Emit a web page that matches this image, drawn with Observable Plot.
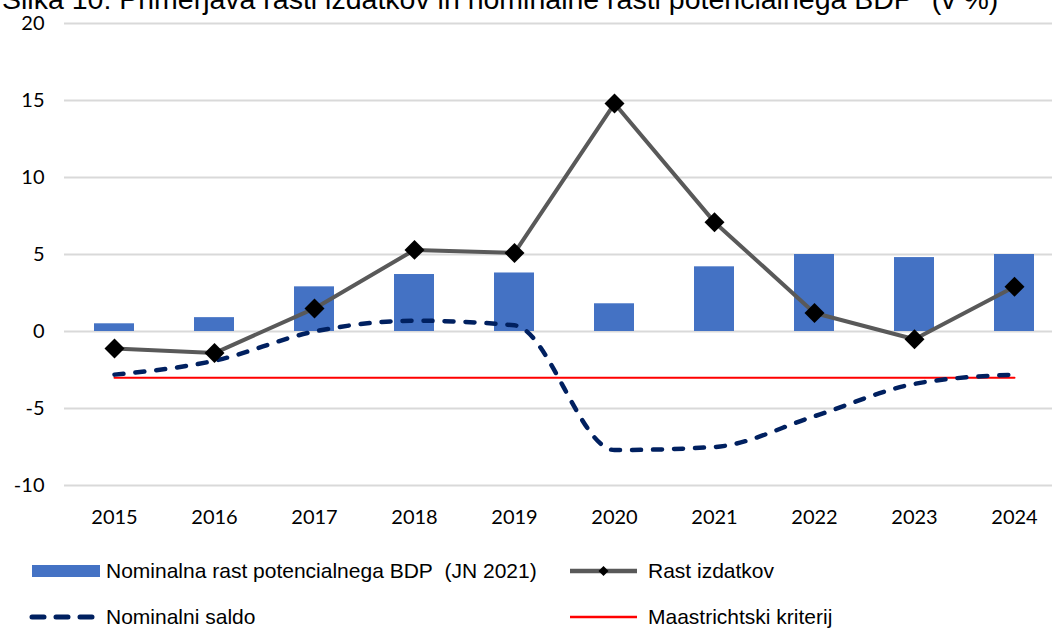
<!DOCTYPE html>
<html>
<head>
<meta charset="utf-8">
<script src="https://cdn.jsdelivr.net/npm/d3@7"></script>
<script src="https://cdn.jsdelivr.net/npm/@observablehq/plot@0.6"></script>
<style>
  html, body { margin: 0; padding: 0; width: 1052px; height: 628px; overflow: hidden; background: #fff; }
  #wrap { position: relative; width: 1052px; height: 628px; overflow: hidden; }
  #title { position: absolute; left: 2px; top: -15px; font: 28.5px "Liberation Sans", Arial, sans-serif; line-height: 28.5px; white-space: nowrap; color: #000; }
  #chart { position: absolute; left: 0; top: 0; width: 1064px; }
  #chart svg { max-width: none !important; }
  .leg { position: absolute; font: 21px "Liberation Sans", Arial, sans-serif; color: #000; white-space: nowrap; line-height: 24px; }
  .sw { position: absolute; }
</style>
</head>
<body>
<div id="wrap">
  <div id="title">Slika 10: Primerjava rasti izdatkov in nominalne rasti potencialnega BDP* (v %)</div>
  <div id="chart"></div>
  <svg class="sw" style="left:30px;top:560px" width="72" height="22"><rect x="2" y="5" width="68" height="12" fill="#4472C4"/></svg>
  <div class="leg" style="left:106px;top:559px">Nominalna rast potencialnega BDP&nbsp; (JN 2021)</div>
  <svg class="sw" style="left:568px;top:560px" width="72" height="22"><line x1="2" y1="11" x2="69" y2="11" stroke="#595959" stroke-width="4.5"/><path d="M35.5,6 L40.5,11 L35.5,16 L30.5,11 Z" fill="#000"/></svg>
  <div class="leg" style="left:648px;top:559px">Rast izdatkov</div>
  <svg class="sw" style="left:28px;top:606px" width="72" height="22"><line x1="4" y1="11" x2="68" y2="11" stroke="#002060" stroke-width="5" stroke-linecap="round" stroke-dasharray="12 12"/></svg>
  <div class="leg" style="left:106px;top:605px">Nominalni saldo</div>
  <svg class="sw" style="left:568px;top:606px" width="72" height="22"><line x1="2" y1="11" x2="69" y2="11" stroke="#FF0000" stroke-width="2.5"/></svg>
  <div class="leg" style="left:648px;top:605px">Maastrichtski kriterij</div>
</div>
<script>
const years = ["2015","2016","2017","2018","2019","2020","2021","2022","2023","2024"];
const potGrowth = [0.5, 0.9, 2.9, 3.7, 3.8, 1.8, 4.2, 5.0, 4.8, 5.0];
const expGrowth = [-1.1, -1.4, 1.5, 5.3, 5.1, 14.8, 7.1, 1.2, -0.5, 2.9];
const balance = [-2.8, -1.9, 0.0, 0.7, 0.4, -7.7, -7.5, -5.5, -3.4, -2.8];
const maastricht = [-3, -3, -3, -3, -3, -3, -3, -3, -3, -3];
const yTicks = [-10, -5, 0, 5, 10, 15, 20];

const rows = years.map((y, i) => ({year: y, pot: potGrowth[i], exp: expGrowth[i], bal: balance[i], maa: maastricht[i]}));

const chart = Plot.plot({
  width: 1064,
  height: 545,
  marginLeft: 64,
  marginRight: 0,
  marginTop: 23,
  marginBottom: 60,
  style: {fontFamily: "Lato, Carlito, Calibri, sans-serif", fontSize: "20px", color: "#000", background: "transparent", maxWidth: "none"},
  x: {type: "band", domain: years, paddingInner: 0.6, paddingOuter: 0.3, label: null},
  y: {domain: [-10, 20], label: null},
  marks: [
    Plot.ruleY(yTicks, {stroke: "#D9D9D9", strokeWidth: 2}),
    Plot.barY(rows, {x: "year", y: "pot", fill: "#4472C4"}),
    Plot.line(rows, {x: "year", y: "maa", stroke: "#FF0000", strokeWidth: 2}),
    Plot.line(rows, {x: "year", y: "bal", stroke: "#002060", strokeWidth: 4.5, strokeDasharray: "9 12", strokeLinecap: "round", curve: "monotone-x"}),
    Plot.line(rows, {x: "year", y: "exp", stroke: "#595959", strokeWidth: 4}),
    Plot.dot(rows, {x: "year", y: "exp", symbol: "diamond2", r: 9, fill: "#000", stroke: "none"}),
    Plot.axisY(yTicks, {tickSize: 0, tickPadding: 20, fontSize: 20, tickFormat: d => d}),
    Plot.axisX({tickSize: 0, tickPadding: 24, fontSize: 20})
  ]
});
chart.style.maxWidth = "none";
document.getElementById("chart").appendChild(chart);
</script>
</body>
</html>
